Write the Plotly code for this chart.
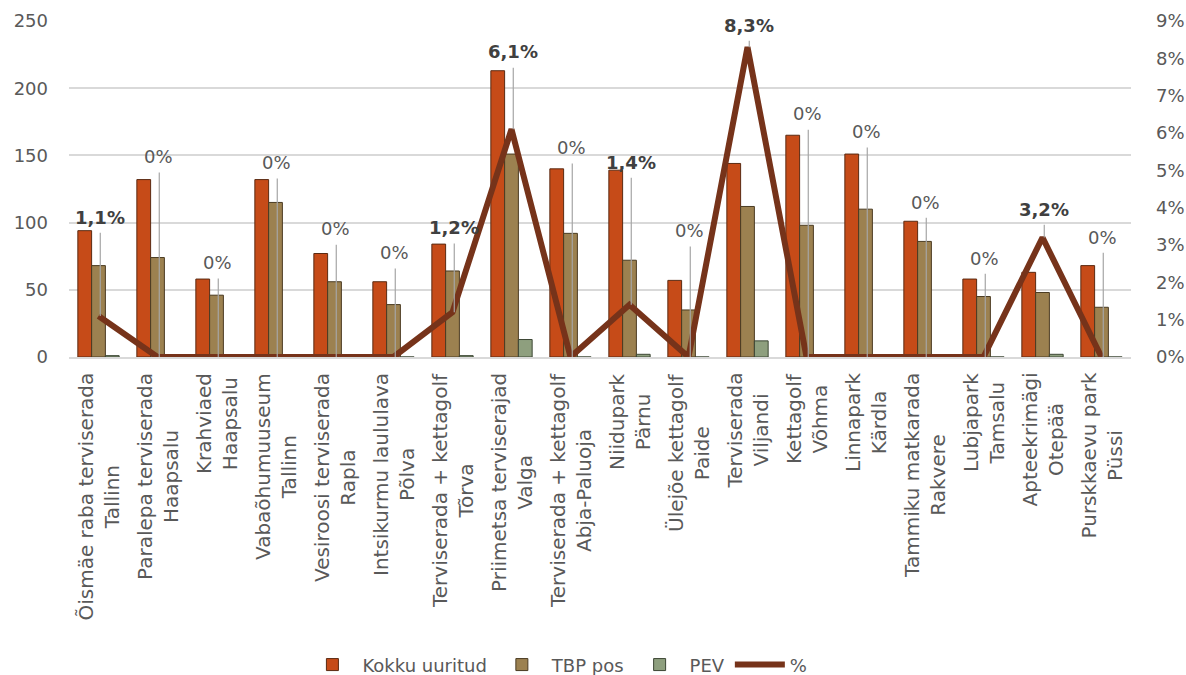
import plotly.graph_objects as go

# Survey sites (name + town)
categories = [
    "Õismäe raba terviserada<br>Tallinn",
    "Paralepa terviserada<br>Haapsalu",
    "Krahviaed<br>Haapsalu",
    "Vabaõhumuuseum<br>Tallinn",
    "Vesiroosi terviserada<br>Rapla",
    "Intsikurmu laululava<br>Põlva",
    "Terviserada + kettagolf<br>Tõrva",
    "Priimetsa terviserajad<br>Valga",
    "Terviserada + kettagolf<br>Abja-Paluoja",
    "Niidupark<br>Pärnu",
    "Ülejõe kettagolf<br>Paide",
    "Terviserada<br>Viljandi",
    "Kettagolf<br>Võhma",
    "Linnapark<br>Kärdla",
    "Tammiku matkarada<br>Rakvere",
    "Lubjapark<br>Tamsalu",
    "Apteekrimägi<br>Otepää",
    "Purskkaevu park<br>Püssi",
]
kokku_uuritud = [94, 132, 58, 132, 77, 56, 84, 213, 140, 139, 57, 144, 165, 151, 101, 58, 63, 68]
tbp_pos = [68, 74, 46, 115, 56, 39, 64, 151, 92, 72, 35, 112, 98, 110, 86, 45, 48, 37]
pev = [1, 0, 0, 0, 0, 0, 1, 13, 0, 2, 0, 12, 0, 0, 0, 0, 2, 0]
pct = [1.1, 0, 0, 0, 0, 0, 1.2, 6.1, 0, 1.4, 0, 8.3, 0, 0, 0, 0, 3.2, 0]

left_ticks = [0, 50, 100, 150, 200, 250]
right_ticks = list(range(0, 10))
right_ticktext = [f"{t}%" for t in right_ticks]

# Heights (in % axis units) where the percentage labels sit
label_pos = [3.75, 5.36, 2.52, 5.2, 3.43, 2.79, 3.46, 8.17, 5.6, 5.22,
             3.38, 8.89, 6.51, 6.03, 4.15, 2.65, 3.96, 3.21]

FONT = "DejaVu Sans"
GREY = "#595959"
C_KOKKU = "#C64B18"
C_TBP = "#9C8150"
C_PEV = "#8E9F7E"
C_LINE = "#76331A"

x = list(range(len(categories)))

fig = go.Figure()
fig.add_trace(go.Bar(x=x, y=kokku_uuritud, name="Kokku uuritud",
                     marker=dict(color=C_KOKKU, line=dict(color="#5a2a12", width=1))))
fig.add_trace(go.Bar(x=x, y=tbp_pos, name="TBP pos",
                     marker=dict(color=C_TBP, line=dict(color="#4a3b22", width=1))))
fig.add_trace(go.Bar(x=x, y=pev, name="PEV",
                     marker=dict(color=C_PEV, line=dict(color="#3c4634", width=1))))
fig.add_trace(go.Scatter(x=x, y=pct, name="%", yaxis="y2", mode="lines",
                         line=dict(color=C_LINE, width=6)))

annotations = []
shapes = []
for i, (p, ly) in enumerate(zip(pct, label_pos)):
    if p:
        txt = "<b>" + f"{p:.1f}".replace(".", ",") + "%</b>"
        col = "#404040"
    else:
        txt = "0%"
        col = GREY
    annotations.append(dict(x=i + 0.02, y=ly, xref="x", yref="y2", text=txt, showarrow=False,
                            font=dict(family=FONT, size=18, color=col),
                            xanchor="center", yanchor="middle"))
    top = ly - 0.42
    if top > p + 0.1:
        shapes.append(dict(type="line", xref="x", yref="y2", x0=i + 0.03, x1=i + 0.03,
                           y0=top, y1=p, line=dict(color="#A6A6A6", width=1.2), layer="above"))

# Category labels, rotated and centred under each group
for i, c in enumerate(categories):
    annotations.append(dict(x=i, y=0, xref="x", yref="paper", yshift=-14, text=c,
                            showarrow=False, textangle=-90, align="center",
                            xanchor="center", yanchor="top",
                            font=dict(family=FONT, size=20, color=GREY)))

fig.update_layout(
    width=1186, height=675,
    margin=dict(l=69, r=55, t=21, b=318, autoexpand=False),
    plot_bgcolor="white", paper_bgcolor="white",
    font=dict(family=FONT, size=18, color=GREY),
    barmode="group", bargap=0.3, bargroupgap=0,
    showlegend=True,
    legend=dict(orientation="h", x=0.47, xanchor="center", xref="container",
                y=0.015, yanchor="middle", yref="container",
                font=dict(family=FONT, size=18, color=GREY), itemwidth=50),
    xaxis=dict(range=[-0.5, len(categories) - 0.5], tickvals=x, showticklabels=False,
               showgrid=False, zeroline=False, showline=True, linecolor="#D9D9D9", linewidth=1.5),
    yaxis=dict(range=[0, 250], tickvals=left_ticks, showgrid=True, gridcolor="#D9D9D9",
               gridwidth=1.5, zeroline=False, ticklabelstandoff=20,
               tickfont=dict(family=FONT, size=18, color=GREY)),
    yaxis2=dict(range=[0, 9], tickvals=right_ticks, ticktext=right_ticktext,
                overlaying="y", side="right",
                showgrid=False, zeroline=False, ticklabelstandoff=24,
                tickfont=dict(family=FONT, size=18, color=GREY)),
    annotations=annotations,
    shapes=shapes,
)

fig.write_html("out.html")
